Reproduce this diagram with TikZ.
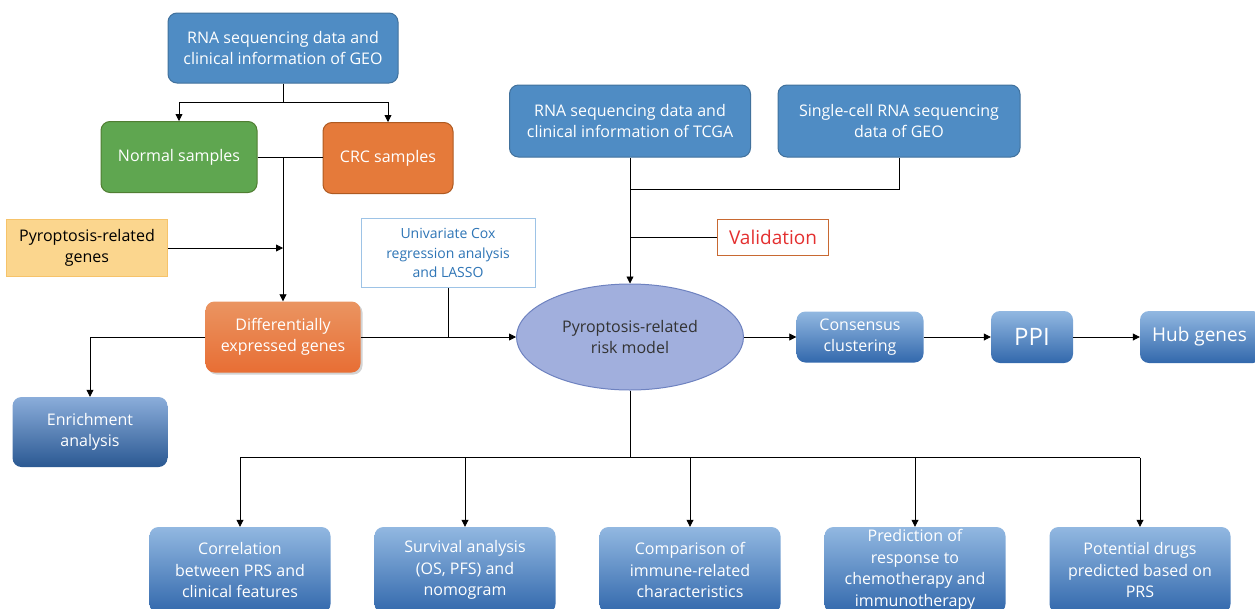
\documentclass[tikz,border=0pt]{standalone}
\usepackage{fontspec}
\setmainfont{Open Sans}
\usepackage{tikz}
\usetikzlibrary{arrows.meta,positioning,shapes.geometric,shadows}

\definecolor{topblue}{RGB}{79,140,196}
\definecolor{topline}{RGB}{65,113,156}
\definecolor{grn}{RGB}{95,166,80}
\definecolor{grnline}{RGB}{80,126,50}
\definecolor{orng}{RGB}{229,122,58}
\definecolor{orngline}{RGB}{174,90,33}
\definecolor{gold}{RGB}{251,214,142}
\definecolor{goldline}{RGB}{246,195,106}
\definecolor{coxline}{RGB}{157,195,230}
\definecolor{coxtext}{RGB}{46,117,182}
\definecolor{lightb}{RGB}{146,184,225}
\definecolor{darkb}{RGB}{50,104,172}
\definecolor{lav}{RGB}{161,175,221}
\definecolor{lavline}{RGB}{110,130,192}
\definecolor{valred}{RGB}{228,48,48}
\definecolor{valline}{RGB}{200,105,50}

\begin{document}
\begin{tikzpicture}[
  x=1pt, y=-1pt,
  box/.style={rectangle,rounded corners=9pt,align=center,text=white,inner sep=0pt,
    font=\fontsize{16}{21.5}\selectfont},
  flat/.style={box,draw=topline,fill=topblue,line width=1pt},
  grad/.style={box,top color=lightb,bottom color=darkb},
  lowbox/.style={grad,minimum width=181pt,minimum height=86pt},
  arr/.style={-{Triangle[length=7pt,width=7pt]},line width=0.8pt},
  ln/.style={line width=0.8pt}
]
\useasboundingbox (0,0) rectangle (1255,608);
\begin{scope}
\clip (0,0) rectangle (1255,608);
% inputs
\node[flat,minimum width=230pt,minimum height=70pt] (geo) at (283,48) {RNA sequencing data and\\clinical information of GEO};
\node[box,draw=grnline,fill=grn,line width=1pt,minimum width=156pt,minimum height=71pt] (normal) at (179,157) {Normal samples};
\node[box,draw=orngline,fill=orng,line width=1pt,minimum width=130pt,minimum height=71pt] (crc) at (388,158) {CRC samples};
\node[rectangle,draw=goldline,fill=gold,line width=1pt,align=center,minimum width=161pt,minimum height=57pt,
  font=\fontsize{16}{21.5}\selectfont] (pyro) at (87,248) {Pyroptosis-related\\genes};
\node[rectangle,draw=coxline,fill=white,text=coxtext,line width=1pt,align=center,minimum width=174pt,minimum height=69pt,
  font=\fontsize{14}{19.5}\selectfont] (cox) at (448,253) {Univariate Cox\\regression analysis\\and LASSO};
\node[box,top color=orng!80!white,bottom color=orng!90!red,drop shadow={opacity=0.35,shadow xshift=2pt,shadow yshift=-2pt},
  minimum width=155pt,minimum height=71pt] (deg) at (283,337) {Differentially\\expressed genes};
\node[box,top color=lightb!80!lavline,bottom color=darkb!85!black,minimum width=155pt,minimum height=70pt] (enrich) at (90,432) {Enrichment\\analysis};
\node[flat,minimum width=241pt,minimum height=72pt] (tcga) at (630,121) {RNA sequencing data and\\clinical information of TCGA};
\node[flat,minimum width=242pt,minimum height=72pt] (single) at (899,121) {Single-cell RNA sequencing\\data of GEO};
\node[rectangle,draw=valline,fill=white,text=valred,line width=1pt,minimum width=111pt,minimum height=36pt,
  font=\fontsize{19}{23}\selectfont] (valid) at (773,237) {Validation};
% model
\node[ellipse,draw=lavline,fill=lav,line width=1pt,minimum width=227pt,minimum height=106pt,inner sep=0pt,align=center,
  font=\fontsize{16}{21.5}\selectfont,text=black!80] (model) at (630,337) {Pyroptosis-related\\risk model};
\node[grad,minimum width=127pt,minimum height=51pt] (cons) at (860,337) {Consensus\\clustering};
\node[grad,minimum width=82pt,minimum height=52pt,font=\fontsize{24}{28}\selectfont] (ppi) at (1032,337) {PPI};
\node[grad,minimum width=122pt,minimum height=52pt,font=\fontsize{19}{23}\selectfont] (hub) at (1201,337) {\hspace*{-3pt}Hub genes};
% outputs
\node[lowbox] (b1) at (240,570) {Correlation\\between PRS and\\clinical features};
\node[lowbox] (b2) at (465,570) {Survival analysis\\(OS, PFS) and\\nomogram};
\node[lowbox] (b3) at (690,570) {Comparison of\\immune-related\\characteristics};
\node[lowbox] (b4) at (915,570) {Prediction of\\response to\\chemotherapy and\\immunotherapy};
\node[lowbox] (b5) at (1140,570) {Potential drugs\\predicted based on\\PRS};

% connectors
\draw[arr] (geo.south) -- ++(0,19) -| (normal.north);
\draw[arr] (geo.south) -- ++(0,19) -| (crc.north);
\draw[ln] (normal.east) -- (normal.east -| crc.west);
\draw[arr] (normal.east -| deg.north) -- (deg.north);
\draw[arr] (pyro.east) -- (pyro.east -| deg.north);
\draw[ln] (cox.south) -- (cox.south |- deg.east);
\draw[arr] (deg.east) -- (model.west);
\draw[arr] (deg.west) -| (enrich.north);
\draw[arr] (tcga.south) -- (model.north);
\draw[ln] (single.south) -- ++(0,32) coordinate (sj) -- (sj -| tcga.south);
\draw[ln] (valid.west) -- (valid.west -| tcga.south);
\draw[arr] (model.east) -- (cons.west);
\draw[arr] (cons.east) -- (ppi.west);
\draw[arr] (ppi.east) -- (hub.west);
\draw[ln] (model.south) -- ++(0,67) coordinate (bus);
\draw[ln] (bus -| b1.north) -- (bus -| b5.north);
\foreach \i in {1,...,5}
  \draw[arr] (bus -| b\i.north) -- (b\i.north);
\end{scope}
\end{tikzpicture}
\end{document}
